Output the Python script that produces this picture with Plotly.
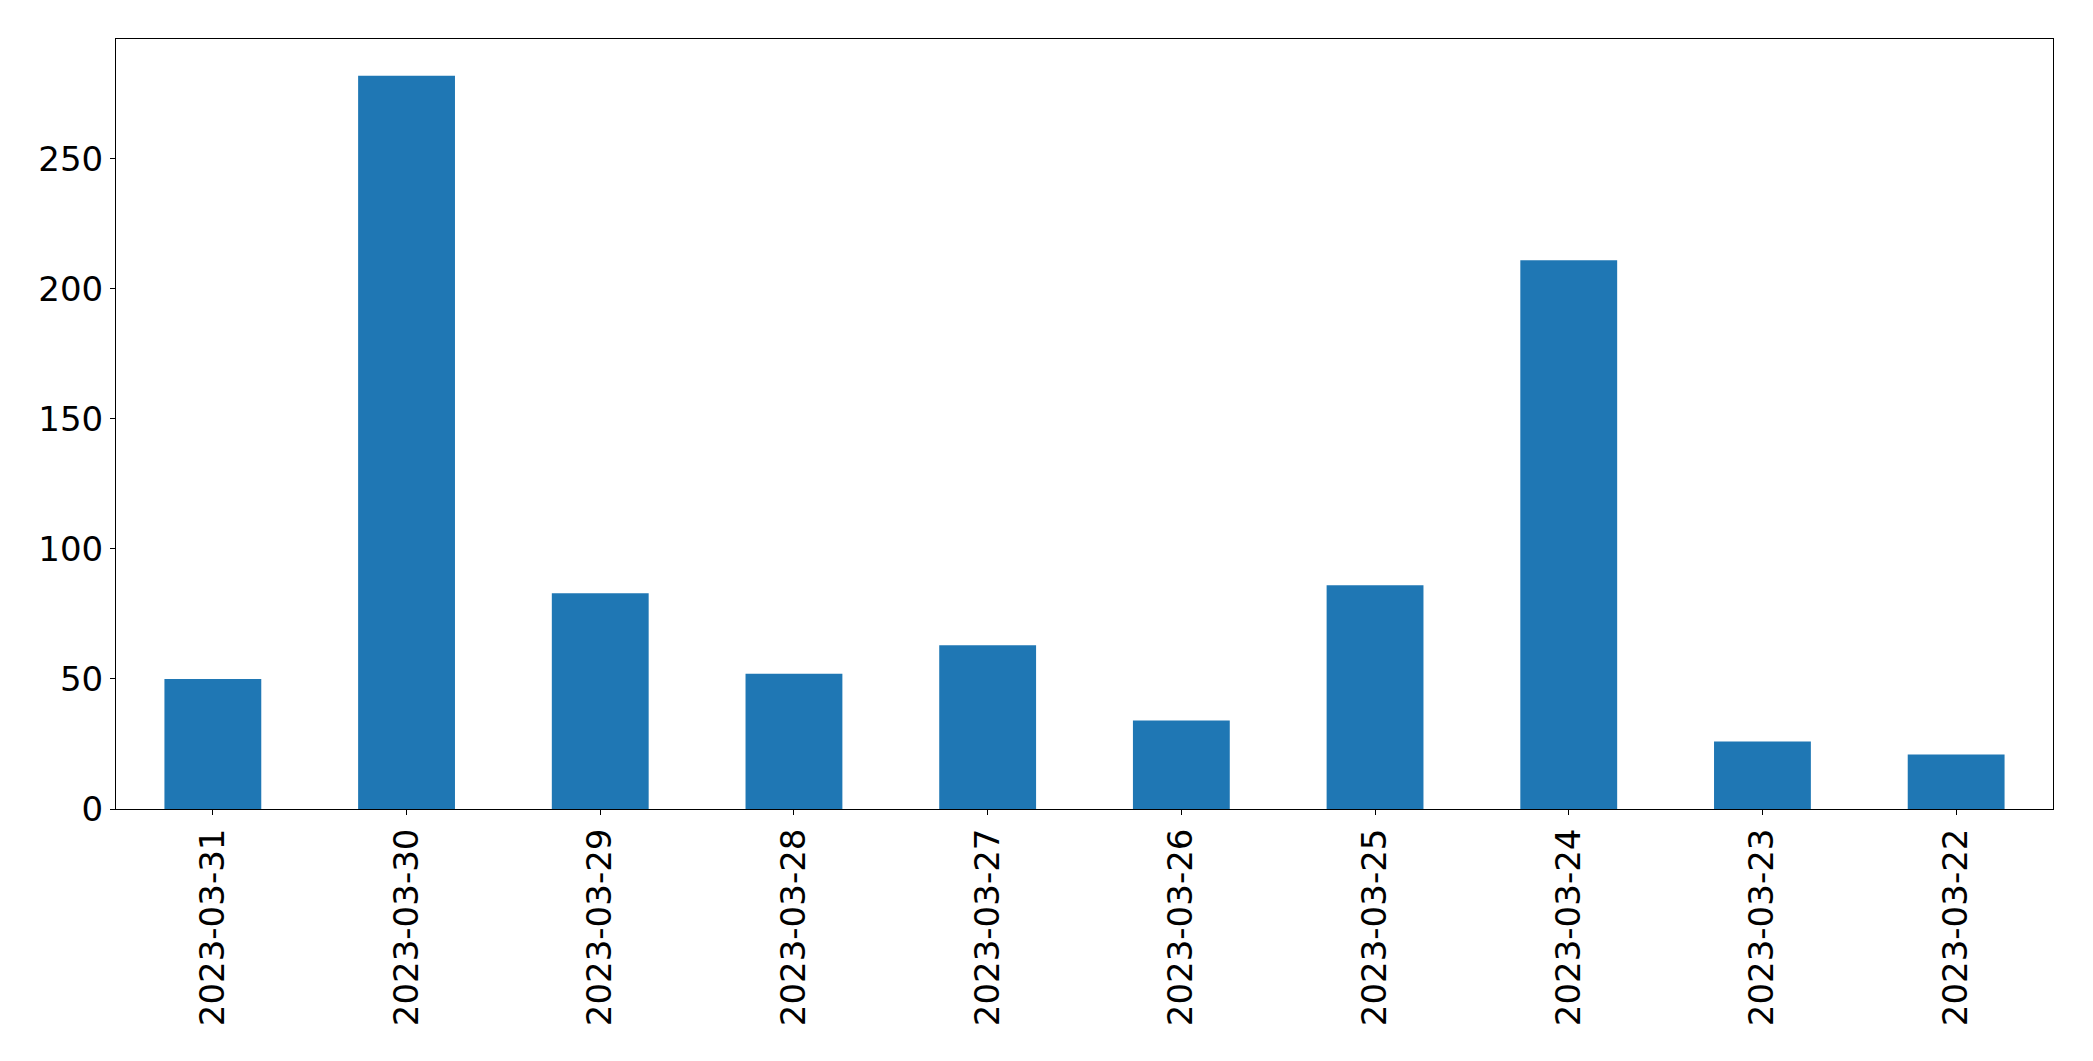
import plotly.graph_objects as go

dates = ["2023-03-31", "2023-03-30", "2023-03-29", "2023-03-28", "2023-03-27",
         "2023-03-26", "2023-03-25", "2023-03-24", "2023-03-23", "2023-03-22"]
counts = [50, 282, 83, 52, 63, 34, 86, 211, 26, 21]
y_ticks = [0, 50, 100, 150, 200, 250]

fig = go.Figure(go.Bar(x=dates, y=counts, width=0.5, marker=dict(color="#1f77b4", line=dict(width=0))))

font = dict(family="DejaVu Sans", size=34, color="black")
fig.update_layout(
    width=2093, height=1061,
    margin=dict(l=116, r=40, t=39, b=252),
    paper_bgcolor="white", plot_bgcolor="white",
    showlegend=False, font=font,
)
fig.update_xaxes(
    type="category", range=[-0.5, len(dates) - 0.5],
    showline=True, linecolor="black", linewidth=1, mirror=True,
    ticks="outside", ticklen=5, tickwidth=1, tickcolor="black",
    tickangle=-90, showgrid=False, tickfont=font,
)
fig.update_yaxes(
    range=[0, max(counts) * 1.05],
    tickvals=y_ticks,
    showline=True, linecolor="black", linewidth=1, mirror=True,
    ticks="outside", ticklen=5, tickwidth=1, tickcolor="black",
    showgrid=False, zeroline=False, tickfont=font,
)
fig.write_html("out.html")
